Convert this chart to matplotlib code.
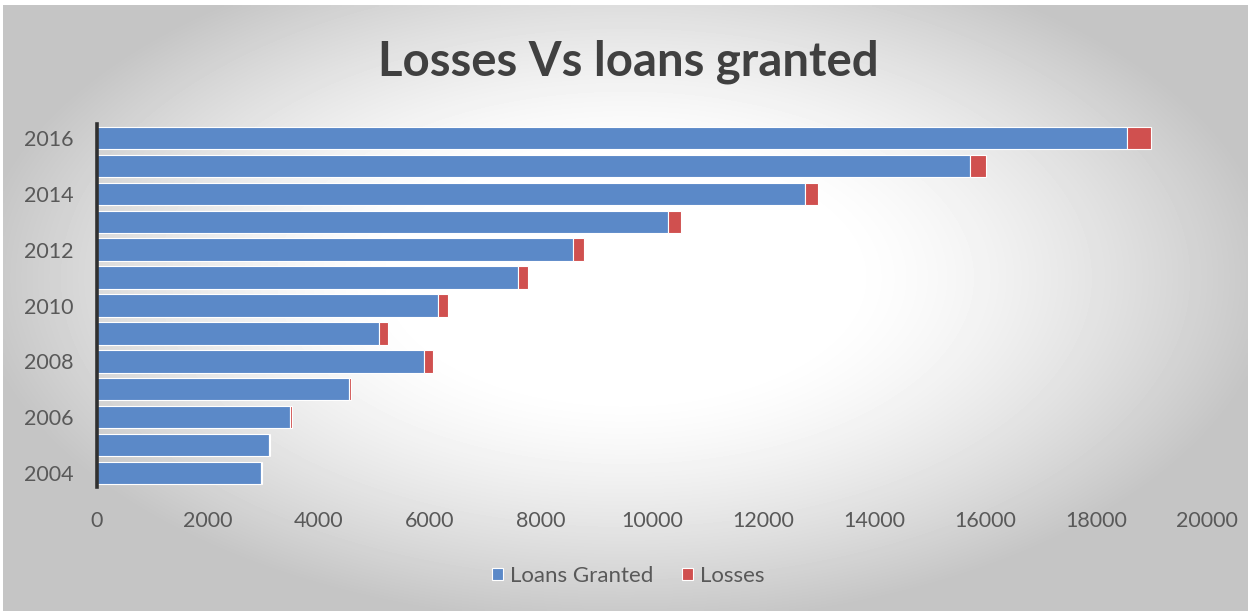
import numpy as np
import matplotlib
matplotlib.use("Agg")
import matplotlib.pyplot as plt

# Loans granted and losses per year
years = [2004, 2005, 2006, 2007, 2008, 2009, 2010, 2011, 2012, 2013, 2014, 2015, 2016]
loans_granted = [2950, 3100, 3480, 4540, 5890, 5080, 6150, 7590, 8570, 10290, 12760, 15730, 18560]
losses = [20, 25, 30, 40, 160, 160, 170, 180, 200, 230, 230, 290, 430]
year_ticks = [2004, 2006, 2008, 2010, 2012, 2014, 2016]
x_ticks = [0, 2000, 4000, 6000, 8000, 10000, 12000, 14000, 16000, 18000, 20000]

plt.rcParams['font.family'] = ['Lato', 'DejaVu Sans']
text_grey = '#595959'

fig = plt.figure(figsize=(12.56, 6.11), dpi=100)
fig.patch.set_facecolor('white')

# soft radial shading behind the chart
bg = fig.add_axes([3 / 1256, 0, 1245 / 1256, 606 / 611], zorder=-10)
gx, gy = np.meshgrid(np.linspace(-1, 1, 400), np.linspace(-1, 1, 200))
r = np.sqrt((gx / 1.0) ** 2 + ((gy + 0.1) / 1.1) ** 2)
shade = 1.0 - 0.23 * np.clip((r - 0.35) / 0.7, 0, 1) ** 1.4
bg.imshow(shade, cmap='gray', vmin=0, vmax=1, aspect='auto',
          extent=[0, 1, 0, 1], interpolation='bilinear')
bg.set_axis_off()

ax = fig.add_axes([97 / 1256, 1 - 487 / 611, 1110 / 1256, 363 / 611])
ax.set_facecolor('none')

ax.barh(years, loans_granted, height=0.8, color='#5b89c8',
        edgecolor='white', linewidth=0.8, label='Loans Granted')
ax.barh(years, losses, left=loans_granted, height=0.8, color='#d0504f',
        edgecolor='white', linewidth=0.8, label='Losses')

ax.set_xlim(0, 20000)
ax.set_ylim(2003.5, 2016.5)
ax.set_xticks(x_ticks)
ax.set_yticks(year_ticks)
ax.set_yticklabels([str(y) for y in year_ticks])
ax.tick_params(axis='both', length=0, labelsize=15.5, colors=text_grey)
ax.tick_params(axis='x', pad=17)
ax.tick_params(axis='y', pad=17)

for side in ['top', 'right', 'bottom']:
    ax.spines[side].set_visible(False)
ax.spines['left'].set_color('#303030')
ax.spines['left'].set_linewidth(2.6)

fig.text(0.5, 1 - 62 / 611, 'Losses Vs loans granted', ha='center', va='center',
         fontsize=34, fontweight='bold', color='#404040')

fig.legend(loc='center', bbox_to_anchor=(0.5, 1 - 576 / 611), ncol=2, frameon=False,
           fontsize=16, labelcolor=text_grey, handlelength=0.5, handleheight=0.5,
           handletextpad=0.3, columnspacing=1.3)

fig.savefig('out.png', dpi=100)
